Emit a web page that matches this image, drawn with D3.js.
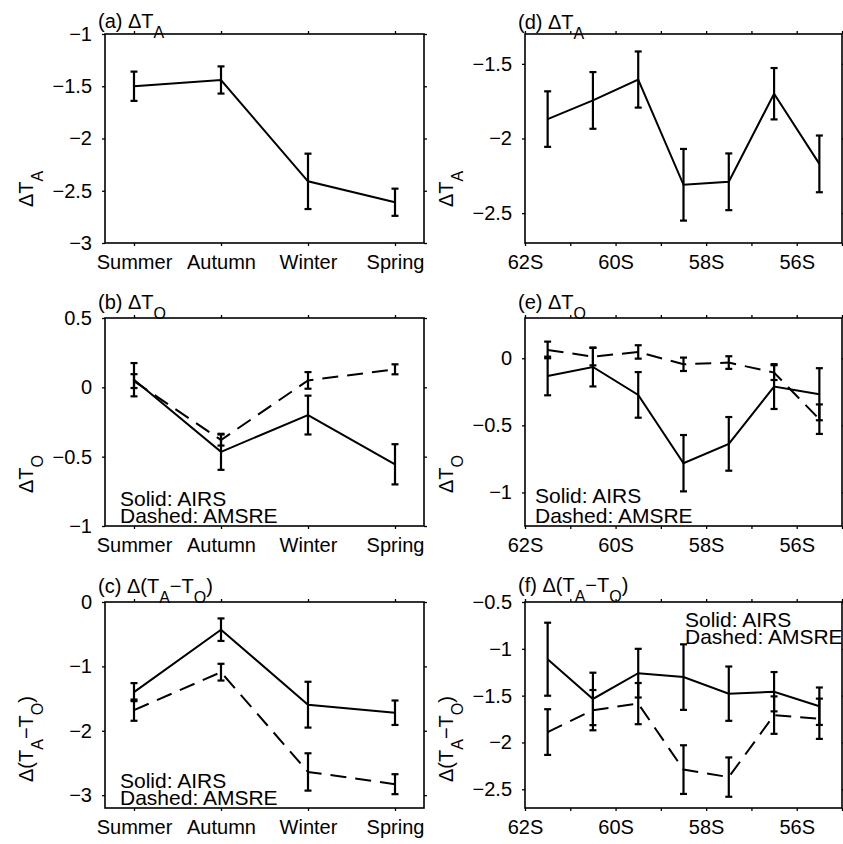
<!DOCTYPE html>
<html>
<head>
<meta charset="utf-8">
<script src="https://cdn.jsdelivr.net/npm/d3@7"></script>
<style>
  html, body { margin: 0; padding: 0; background: #fff; }
  svg { display: block; }
  text { font-family: "Liberation Sans", Arial, Helvetica, sans-serif; fill: #000; }
</style>
</head>
<body>
<svg id="chart" width="843" height="844"></svg>
<script>
// ---------------- DATA ----------------
const seasons = ["Summer", "Autumn", "Winter", "Spring"];
const seasonPos = [1, 2, 3, 4];
const lats = [-61.5, -60.5, -59.5, -58.5, -57.5, -56.5, -55.5];
const latTicks = [-62, -61, -60, -59, -58, -57, -56, -55];
const latLabels = ["62S", "", "60S", "", "58S", "", "56S", ""];

// (a) ΔT_A by season
const aAirs    = [-1.50, -1.44, -2.41, -2.61];
const aAirsErr = [0.14, 0.13, 0.265, 0.13];
// (b) ΔT_O by season
const bAirs     = [0.055, -0.465, -0.20, -0.555];
const bAirsErr  = [0.12, 0.13, 0.14, 0.145];
const bAmsre    = [0.045, -0.38, 0.05, 0.13];
const bAmsreErr = [0.05, 0.04, 0.06, 0.036];
// (c) Δ(T_A - T_O) by season
const cAirs     = [-1.40, -0.43, -1.595, -1.72];
const cAirsErr  = [0.14, 0.175, 0.356, 0.19];
const cAmsre    = [-1.68, -1.09, -2.64, -2.83];
const cAmsreErr = [0.165, 0.13, 0.29, 0.155];
// (d) ΔT_A by latitude
const dAirs    = [-1.87, -1.745, -1.605, -2.31, -2.29, -1.70, -2.17];
const dAirsErr = [0.186, 0.19, 0.188, 0.24, 0.19, 0.172, 0.19];
// (e) ΔT_O by latitude
const eAirs     = [-0.132, -0.065, -0.273, -0.782, -0.638, -0.211, -0.268];
const eAirsErr  = [0.144, 0.145, 0.17, 0.21, 0.2, 0.167, 0.194];
const eAmsre    = [0.062, 0.012, 0.047, -0.045, -0.032, -0.107, -0.454];
const eAmsreErr = [0.062, 0.065, 0.05, 0.05, 0.047, 0.055, 0.11];
// (f) Δ(T_A - T_O) by latitude
const fAirs     = [-1.111, -1.535, -1.26, -1.302, -1.479, -1.458, -1.613];
const fAirsErr  = [0.39, 0.28, 0.26, 0.35, 0.29, 0.21, 0.2];
const fAmsre    = [-1.889, -1.655, -1.585, -2.29, -2.37, -1.708, -1.747];
const fAmsreErr = [0.244, 0.215, 0.22, 0.26, 0.21, 0.2, 0.215];

// y-axis domains and ticks
const aDomain = [-3, -1],    aTicks = [-3, -2.5, -2, -1.5, -1];
const bDomain = [-1, 0.5],   bTicks = [-1, -0.5, 0, 0.5];
const cDomain = [-3.2, 0],   cTicks = [-3, -2, -1, 0];
const dDomain = [-2.7, -1.3], dTicks = [-2.5, -2, -1.5];
const eDomain = [-1.25, 0.3], eTicks = [-1, -0.5, 0];
const fDomain = [-2.7, -0.5], fTicks = [-2.5, -2, -1.5, -1, -0.5];

// ---------------- LAYOUT ----------------
const svg = d3.select("#chart");
const FS = 20;      // tick labels, titles, axis labels
const LFS = 21;     // legend text
const rows = [{top: 34, bottom: 243}, {top: 318, bottom: 526}, {top: 602, bottom: 808}];
const cols = [{left: 105, right: 424}, {left: 525, right: 842}];

const fmt = d => (d < 0 ? "\u2212" : "") + Math.abs(d);

// builds text with subscripts; the baseline shift is carried onto the next tspan
function richText(sel, parts) {
  let cur = 0;
  parts.forEach(p => {
    const target = p.sub ? 10 : 0;
    sel.append("tspan")
      .attr("dy", target - cur)
      .attr("font-size", p.sub ? 16 : FS)
      .text(p.t);
    cur = target;
  });
}

const panels = [
  {row: 0, col: 0, kind: "season", yDomain: aDomain, yTicks: aTicks,
   series: [{v: aAirs, e: aAirsErr, dash: null}],
   title: [{t: "(a) \u0394T"}, {t: "A", sub: true}], titleY: 28,
   ylabel: [{t: "\u0394T"}, {t: "A", sub: true}], ylabelStart: 207},
  {row: 1, col: 0, kind: "season", yDomain: bDomain, yTicks: bTicks,
   series: [{v: bAmsre, e: bAmsreErr, dash: "16,9"}, {v: bAirs, e: bAirsErr, dash: null}],
   title: [{t: "(b) \u0394T"}, {t: "O", sub: true}], titleY: 309,
   ylabel: [{t: "\u0394T"}, {t: "O", sub: true}], ylabelStart: 493,
   legend: {x: 120, y1: 506, y2: 523}},
  {row: 2, col: 0, kind: "season", yDomain: cDomain, yTicks: cTicks,
   series: [{v: cAmsre, e: cAmsreErr, dash: "16,9"}, {v: cAirs, e: cAirsErr, dash: null}],
   title: [{t: "(c) \u0394(T"}, {t: "A", sub: true}, {t: "\u2212T"}, {t: "O", sub: true}, {t: ")"}], titleY: 593,
   ylabel: [{t: "\u0394(T"}, {t: "A", sub: true}, {t: "\u2212T"}, {t: "O", sub: true}, {t: ")"}], ylabelStart: 782,
   legend: {x: 120, y1: 788, y2: 805}},
  {row: 0, col: 1, kind: "lat", yDomain: dDomain, yTicks: dTicks,
   series: [{v: dAirs, e: dAirsErr, dash: null}],
   title: [{t: "(d) \u0394T"}, {t: "A", sub: true}], titleY: 29,
   ylabel: [{t: "\u0394T"}, {t: "A", sub: true}], ylabelStart: 207},
  {row: 1, col: 1, kind: "lat", yDomain: eDomain, yTicks: eTicks,
   series: [{v: eAmsre, e: eAmsreErr, dash: "16,9"}, {v: eAirs, e: eAirsErr, dash: null}],
   title: [{t: "(e) \u0394T"}, {t: "O", sub: true}], titleY: 309,
   ylabel: [{t: "\u0394T"}, {t: "O", sub: true}], ylabelStart: 493,
   legend: {x: 535, y1: 503, y2: 523}},
  {row: 2, col: 1, kind: "lat", yDomain: fDomain, yTicks: fTicks,
   series: [{v: fAmsre, e: fAmsreErr, dash: "16,9"}, {v: fAirs, e: fAirsErr, dash: null}],
   title: [{t: "(f) \u0394(T"}, {t: "A", sub: true}, {t: "\u2212T"}, {t: "O", sub: true}, {t: ")"}], titleY: 592,
   ylabel: [{t: "\u0394(T"}, {t: "A", sub: true}, {t: "\u2212T"}, {t: "O", sub: true}, {t: ")"}], ylabelStart: 782,
   legend: {x: 685, y1: 627, y2: 644}}
];

panels.forEach(p => {
  const r = rows[p.row], c = cols[p.col];
  const y = d3.scaleLinear().domain(p.yDomain).range([r.bottom, r.top]);
  let x, xs, xTickVals, xTickFmt;
  if (p.kind === "season") {
    x = d3.scaleLinear().domain([2 / 3, 13 / 3]).range([c.left, c.right]);
    xs = seasonPos;
    xTickVals = seasonPos;
    xTickFmt = (d, i) => seasons[i];
  } else {
    x = d3.scaleLinear().domain([-62, -55]).range([c.left, c.right]);
    xs = lats;
    xTickVals = latTicks;
    xTickFmt = (d, i) => latLabels[i];
  }
  const g = svg.append("g");

  // axes (ticks outward, mirrored)
  const ax = (gen, tx, ty, labels) => {
    const a = g.append("g").attr("transform", `translate(${tx},${ty})`).call(gen);
    a.select(".domain").remove();
    a.selectAll(".tick line").attr("stroke", "#000").attr("stroke-width", 1.3);
    a.selectAll(".tick text").attr("font-size", FS)
      .attr("font-family", "Liberation Sans, Arial, sans-serif").attr("fill", "#000");
    if (!labels) a.selectAll(".tick text").remove();
    return a;
  };
  ax(d3.axisLeft(y).tickValues(p.yTicks).tickFormat(fmt).tickSize(3).tickPadding(10), c.left, 0, true);
  ax(d3.axisRight(y).tickValues(p.yTicks).tickSize(3), c.right, 0, false);
  const bx = ax(d3.axisBottom(x).tickValues(xTickVals).tickFormat(xTickFmt).tickSize(3).tickPadding(9), 0, r.bottom, true);
  bx.selectAll(".tick text").attr("dy", "0.71em");
  ax(d3.axisTop(x).tickValues(xTickVals).tickSize(3), 0, r.top, false);

  // series lines
  p.series.forEach(s => {
    const line = d3.line().x((d, i) => x(xs[i])).y(d => y(d));
    g.append("path").datum(s.v).attr("d", line)
      .attr("fill", "none").attr("stroke", "#000").attr("stroke-width", 2)
      .attr("stroke-dasharray", s.dash);
  });
  // error bars
  p.series.forEach(s => {
    const eb = g.append("g").attr("stroke", "#000").attr("stroke-width", 2.2);
    s.v.forEach((v, i) => {
      const cx = x(xs[i]), y0 = y(v - s.e[i]), y1 = y(v + s.e[i]);
      eb.append("line").attr("x1", cx).attr("x2", cx).attr("y1", y0).attr("y2", y1);
      eb.append("line").attr("x1", cx - 3.5).attr("x2", cx + 3.5).attr("y1", y0).attr("y2", y0);
      eb.append("line").attr("x1", cx - 3.5).attr("x2", cx + 3.5).attr("y1", y1).attr("y2", y1);
    });
  });

  // box
  g.append("rect").attr("x", c.left).attr("y", r.top)
    .attr("width", c.right - c.left).attr("height", r.bottom - r.top)
    .attr("fill", "none").attr("stroke", "#000").attr("stroke-width", 1.6);

  // title
  const t = g.append("text").attr("x", c.left - 7).attr("y", p.titleY);
  richText(t, p.title);

  // y label
  const yl = g.append("text")
    .attr("transform", `translate(${c.left - 72},${p.ylabelStart}) rotate(-90)`)
    .attr("text-anchor", "start");
  richText(yl, p.ylabel);

  // legend
  if (p.legend) {
    g.append("text").attr("x", p.legend.x).attr("y", p.legend.y1).attr("font-size", LFS).text("Solid: AIRS");
    g.append("text").attr("x", p.legend.x).attr("y", p.legend.y2).attr("font-size", LFS).text("Dashed: AMSRE");
  }
});
</script>
</body>
</html>
